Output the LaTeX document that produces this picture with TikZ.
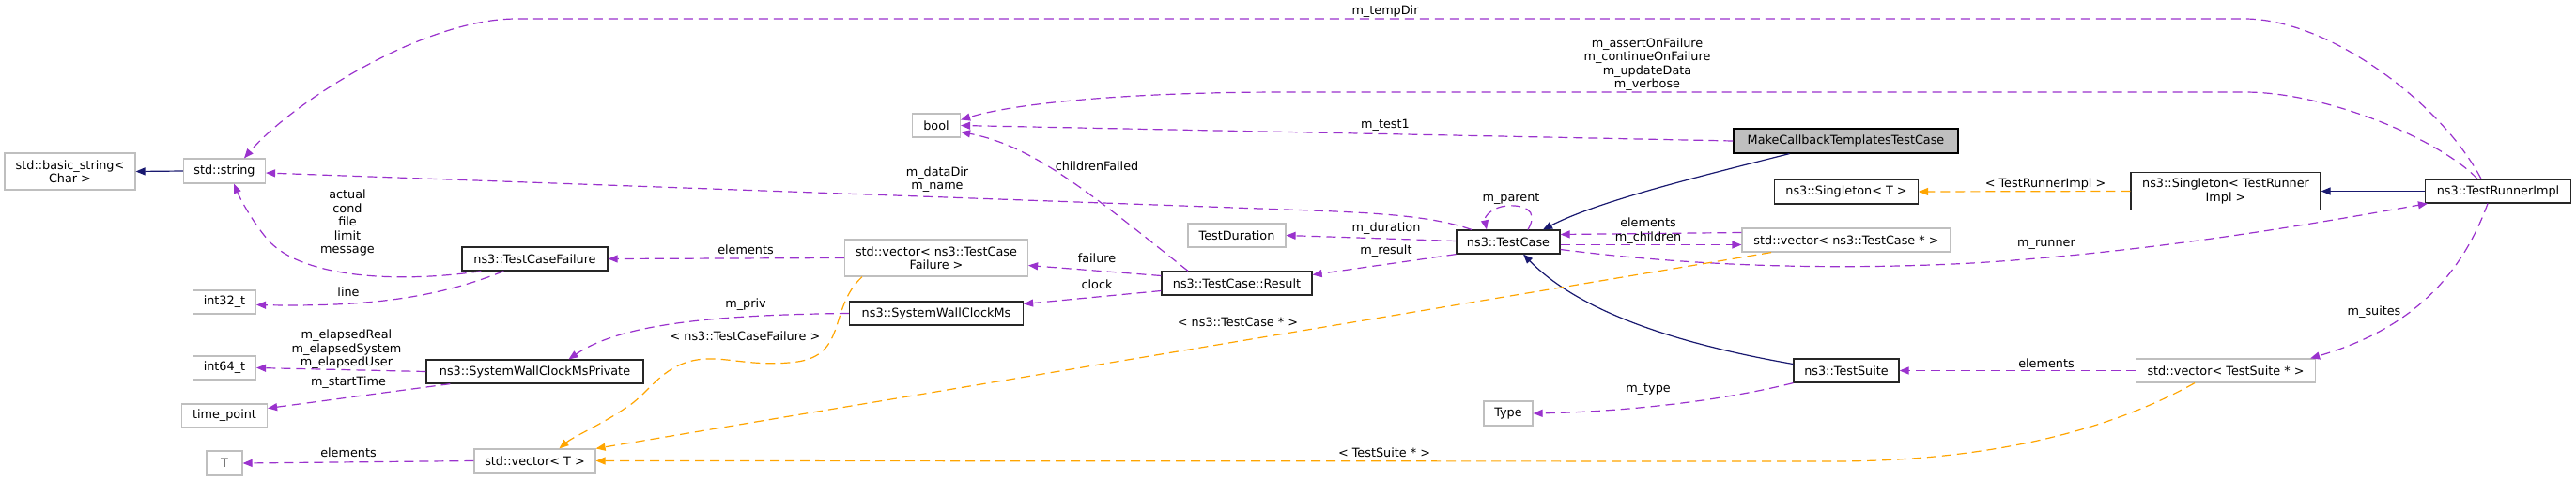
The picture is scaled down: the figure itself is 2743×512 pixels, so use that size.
\documentclass[tikz,border=0pt]{standalone}
\usepackage{fontspec}
\setmainfont{DejaVu Sans}
\usetikzlibrary{arrows.meta}
\definecolor{edgepurple}{HTML}{9A32CD}
\definecolor{edgeorange}{HTML}{FFA500}
\definecolor{edgenavy}{HTML}{191970}
\definecolor{boxgray}{HTML}{BFBFBF}
\begin{document}
\begin{tikzpicture}[x=1pt,y=-1pt,
  every node/.style={font=\fontsize{12.8}{14.5}\selectfont, inner sep=0pt, align=center},
  graybox/.style={draw=boxgray, line width=1.2pt, fill=white, minimum height=25pt},
  blackbox/.style={draw=black!85, line width=1.2pt, fill=white, minimum height=25pt},
  mainbox/.style={draw=black, line width=1.2pt, fill=boxgray, minimum height=26pt},
  usage/.style={draw=edgepurple, line width=1.2pt, dash pattern=on 10pt off 6pt, -{Triangle[length=10pt,width=8pt]}},
  tmpl/.style={draw=edgeorange, line width=1.2pt, dash pattern=on 10pt off 6pt, -{Triangle[length=10pt,width=8pt]}},
  inherit/.style={draw=edgenavy, line width=1.2pt, -{Triangle[length=10pt,width=8pt]}},
  lbl/.style={text=black}]
\fill[white] (0,0) rectangle (2743,512);
\useasboundingbox (0,0) rectangle (2743,512);

% nodes
\node[graybox, minimum width=139pt, minimum height=39pt] (bs) at (74.5,182.5) {std::basic\_string<\\Char >};
\node[graybox, minimum width=87pt, minimum height=26pt] (str) at (239,182) {std::string};
\node[graybox, minimum width=51pt] (bool) at (997,133.5) {bool};
\node[blackbox, minimum width=155pt] (tcf) at (569.5,275.5) {ns3::TestCaseFailure};
\node[graybox, minimum width=67pt] (i32) at (239,321.5) {int32\_t};
\node[graybox, minimum width=67pt] (i64) at (239,391.5) {int64\_t};
\node[graybox, minimum width=91pt] (tp) at (239,442.5) {time\_point};
\node[graybox, minimum width=38pt, minimum height=26pt] (T) at (239,493) {T};
\node[blackbox, minimum width=231pt] (swcmp) at (569.5,395.5) {ns3::SystemWallClockMsPrivate};
\node[graybox, minimum width=129pt] (vt) at (569.5,490.5) {std::vector< T >};
\node[graybox, minimum width=195pt, minimum height=39pt] (vtcf) at (997,274.5) {std::vector< ns3::TestCase\\Failure >};
\node[blackbox, minimum width=185pt] (swcm) at (997,333.5) {ns3::SystemWallClockMs};
\node[graybox, minimum width=104pt] (td) at (1317,250.5) {TestDuration};
\node[blackbox, minimum width=160pt] (res) at (1317,301.5) {ns3::TestCase::Result};
\node[blackbox, minimum width=110pt] (tc) at (1606,257.5) {ns3::TestCase};
\node[graybox, minimum width=52pt, minimum height=26pt] (type) at (1606,440) {Type};
\node[mainbox, minimum width=239pt] (mk) at (1965.5,150) {MakeCallbackTemplatesTestCase};
\node[blackbox, minimum width=153pt, minimum height=26pt] (sgt) at (1966,204) {ns3::Singleton< T >};
\node[graybox, minimum width=222pt] (vtc) at (1966,255.5) {std::vector< ns3::TestCase * >};
\node[blackbox, minimum width=112pt] (ts) at (1966,394.5) {ns3::TestSuite};
\node[blackbox, minimum width=202pt, minimum height=40pt] (sgtri) at (2370,203.5) {ns3::Singleton< TestRunner\\Impl >};
\node[graybox, minimum width=191pt] (vts) at (2370,394.5) {std::vector< TestSuite * >};
\node[blackbox, minimum width=155pt] (tri) at (2660,203.5) {ns3::TestRunnerImpl};

% edges
\draw[inherit] (str.west) -- (bs.east);
\draw[usage] ([xshift=-18pt]tri.north) .. controls (2600,110) and (2480,20) .. (2390,20) -- (550,20) .. controls (450,20) and (310,110) .. ([xshift=21pt]str.north);
\draw[usage] ([xshift=-22pt]tri.north) .. controls (2600,150) and (2480,98) .. (2390,98) -- (1370,98) .. controls (1200,98) and (1080,110) .. ([yshift=6pt]bool.east);
\draw[usage] (mk.west) -- (bool.east);
\draw[inherit] ([xshift=-60pt]mk.south) .. controls (1800,190) and (1700,215) .. ([xshift=37pt]tc.north);
\draw[usage] ([xshift=21pt]tc.north) .. controls (1640,222) and (1620,218) .. (1605,219) .. controls (1590,220) and (1580,230) .. ([xshift=-23pt]tc.north);
\draw[usage] ([xshift=-39pt]tc.north) .. controls (1520,228) and (1450,226) .. (1370,223) -- ([yshift=-2pt]str.east);
\draw[usage] ([yshift=1pt]tc.west) -- (td.east);
\draw[usage] (tc.south west) -- ([yshift=9pt]res.east);
\draw[usage] ([yshift=8pt]vtc.west) -- ([yshift=8pt]tc.east);
\draw[usage] ([yshift=-3pt]tc.east) -- ([yshift=-5pt]vtc.west);
\draw[usage] ([yshift=-8pt]tc.east) .. controls (1800,283) and (1950,288) .. (2100,280) .. controls (2300,268) and (2480,235) .. ([xshift=3pt]tri.south west);
\draw[tmpl] (sgtri.west) -- (sgt.east);
\draw[inherit] (tri.west) -- (sgtri.east);
\draw[usage] ([xshift=-11pt]tri.south) .. controls (2615,310) and (2550,355) .. ([xshift=-6pt]vts.north east);
\draw[usage] (vts.west) -- (ts.east);
\draw[usage] (ts.south west) .. controls (1840,425) and (1740,438) .. (type.east);
\draw[inherit] ([yshift=7pt]ts.west) .. controls (1780,365) and (1680,330) .. ([xshift=16pt]tc.south);
\draw[tmpl] ([xshift=-80pt]vtc.south) -- (vt.north east);
\draw[tmpl] ([xshift=-33pt]vts.south) .. controls (2270,445) and (2150,491) .. (1950,491) -- (vt.east);
\draw[tmpl] ([xshift=-79pt]vtcf.south) .. controls (880,330) and (905,382) .. (840,386) .. controls (790,390) and (765,376) .. (733,385) .. controls (700,395) and (690,420) .. (665,435) .. controls (640,452) and (610,465) .. ([xshift=26pt]vt.north);
\draw[usage] (vtcf.west) -- (tcf.east);
\draw[usage] ([yshift=8pt]res.west) -- ([yshift=-8pt]vtcf.east);
\draw[usage] ([yshift=-8pt]res.west) -- ([yshift=10pt]swcm.east);
\draw[usage] ([xshift=-52pt]res.north) .. controls (1160,205) and (1100,155) .. ([yshift=-7pt]bool.east);
\draw[usage] (swcm.west) .. controls (760,335) and (660,345) .. ([xshift=36pt]swcmp.north);
\draw[usage] (swcmp.west) -- (i64.east);
\draw[usage] ([xshift=26pt]swcmp.south west) -- ([yshift=8pt]tp.east);
\draw[usage] (vt.west) -- (T.east);
\draw[usage] ([xshift=21pt]tcf.south west) .. controls (420,302) and (320,295) .. (285,255) .. controls (268,235) and (255,210) .. ([xshift=10pt]str.south);
\draw[usage] ([xshift=45pt]tcf.south west) .. controls (470,315) and (400,327) .. ([yshift=-3pt]i32.east);

% labels
\node[lbl] (l1) at (1475,12) {m\_tempDir};
\node[lbl] (l2) at (1754,68.5) {m\_assertOnFailure\\m\_continueOnFailure\\m\_updateData\\m\_verbose};
\node[lbl] (l3) at (1475,133) {m\_test1};
\node[lbl] (l4) at (1609,212) {m\_parent};
\node[lbl] (l5) at (998,191) {m\_dataDir\\m\_name};
\node[lbl] (l6) at (1476,243) {m\_duration};
\node[lbl] (l7) at (1476,267) {m\_result};
\node[lbl] (l8) at (1755,237) {elements};
\node[lbl] (l9) at (1755,253) {m\_children};
\node[lbl] (l10) at (2179,260) {m\_runner};
\node[lbl] (l11) at (2178,196) {< TestRunnerImpl >};
\node[lbl] (l12) at (2528,332) {m\_suites};
\node[lbl] (l13) at (2179,387) {elements};
\node[lbl] (l14) at (1755,415) {m\_type};
\node[lbl] (l15) at (1318,343) {< ns3::TestCase * >};
\node[lbl] (l16) at (1474,482) {< TestSuite * >};
\node[lbl] (l17) at (793.5,358) {< ns3::TestCaseFailure >};
\node[lbl] (l18) at (794,266) {elements};
\node[lbl] (l19) at (1168,275) {failure};
\node[lbl] (l20) at (1168,303) {clock};
\node[lbl] (l21) at (1168,177) {childrenFailed};
\node[lbl] (l22) at (794,324) {m\_priv};
\node[lbl] (l23) at (369,372) {m\_elapsedReal\\m\_elapsedSystem\\m\_elapsedUser};
\node[lbl] (l24) at (371,407) {m\_startTime};
\node[lbl] (l25) at (371,482) {elements};
\node[lbl] (l26) at (370,237) {actual\\cond\\file\\limit\\message};
\node[lbl] (l27) at (371,311) {line};
\end{tikzpicture}
\end{document}
